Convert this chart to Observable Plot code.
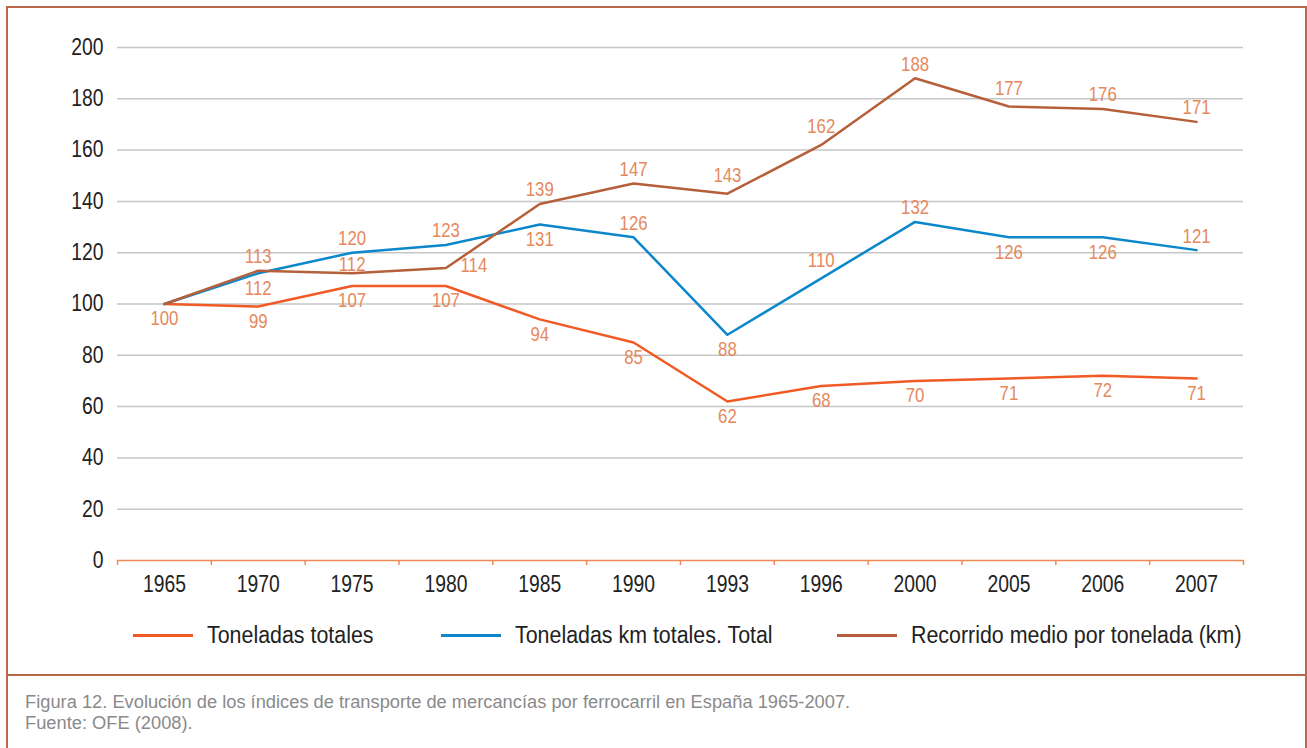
<!DOCTYPE html>
<html>
<head>
<meta charset="utf-8">
<script src="https://cdn.jsdelivr.net/npm/d3@7"></script>
<script src="https://cdn.jsdelivr.net/npm/@observablehq/plot@0.6"></script>
<style>
  html, body { margin: 0; padding: 0; background: #fff; }
  #wrap { position: relative; width: 1307px; height: 748px; overflow: hidden;
          font-family: "Liberation Sans", Arial, sans-serif; }
  .frame { position: absolute; left: 6px; top: 6px; width: 1301px; height: 800px;
           border: 2px solid #b7694a; box-sizing: border-box; }
  .divider { position: absolute; left: 6px; top: 674px; width: 1301px; height: 2px; background: #b7694a; }
  #chart { position: absolute; left: 0; top: 0; }
  .leg { position: absolute; top: 622px; height: 26px; display: flex; align-items: center;
         font-size: 23px; color: #222; white-space: nowrap; }
  .leg .sw { width: 60px; height: 3px; margin-right: 14px; flex: none; }
  .leg span { display: inline-block; transform: scaleX(0.93); transform-origin: left center; }
  .caption { position: absolute; left: 25px; top: 691px; font-family: "Liberation Sans", Arial, sans-serif;
             font-size: 18.3px; line-height: 21px; color: #8a8a8a; white-space: nowrap; }
</style>
</head>
<body>
<div id="wrap">
  <div class="frame"></div>
  <div class="divider"></div>
  <div id="chart"></div>
  <div id="legend"></div>
  <div class="caption" id="caption"></div>
</div>
<script>
// ---- data ----
const years = ["1965","1970","1975","1980","1985","1990","1993","1996","2000","2005","2006","2007"];
const toneladasTotales = [100, 99, 107, 107, 94, 85, 62, 68, 70, 71, 72, 71];
const toneladasKm = [100, 112, 120, 123, 131, 126, 88, 110, 132, 126, 126, 121];
const recorridoMedio = [100, 113, 112, 114, 139, 147, 143, 162, 188, 177, 176, 171];
const seriesNames = ["Toneladas totales", "Toneladas km totales. Total", "Recorrido medio por tonelada (km)"];
const yTicks = [0, 20, 40, 60, 80, 100, 120, 140, 160, 180, 200];
const captionLines = [
  "Figura 12. Evolución de los índices de transporte de mercancías por ferrocarril en España 1965-2007.",
  "Fuente: OFE (2008)."
];

// ---- styling / layout config ----
const seriesColors = ["#f15a24", "#0c87cb", "#b5603a"];
const labelColor = "#e5895d";
const labelPlacement = [
  ["below","below","below","below","below","below","below","below","below","below","below","below"],
  ["none","below","above","above","below","above","below","high","above","below","below","above"],
  ["none","above","near","right","above","above","high","high","above","high","above","above"]
];
const offsets = {
  above: {dx: 0, dy: -14},
  high:  {dx: 0, dy: -18},
  near:  {dx: 0, dy: -9},
  below: {dx: 0, dy: 15},
  right: {dx: 28, dy: -2}
};
const condenseFactor = 0.84;

const W = 1307, H = 600;
const mL = 117, mR = 64, mT = 47, mB = 40;
const step = (W - mL - mR) / years.length;

const valuesBySeries = [toneladasTotales, toneladasKm, recorridoMedio];
const rows = [];
seriesNames.forEach((s, si) => {
  years.forEach((y, i) => {
    rows.push({series: s, year: y, value: valuesBySeries[si][i], place: labelPlacement[si][i]});
  });
});

const textMarks = Object.entries(offsets).map(([key, o]) =>
  Plot.text(rows.filter(d => d.place === key), {
    x: "year", y: "value", text: d => String(d.value),
    dx: o.dx, dy: o.dy, fill: labelColor, fontSize: 20
  })
);

const chart = Plot.plot({
  width: W, height: H,
  marginLeft: mL, marginRight: mR, marginTop: mT, marginBottom: mB,
  style: {fontFamily: '"Liberation Sans", Arial, sans-serif',
          fontSize: "23px", color: "#222", background: "transparent", overflow: "visible"},
  x: {type: "point", domain: years, padding: 0.5, round: false, label: null, tickSize: 0, tickPadding: 15},
  y: {domain: [0, 200], ticks: yTicks, label: null, tickSize: 0, tickPadding: 14},
  color: {domain: seriesNames, range: seriesColors},
  marks: [
    Plot.ruleY(yTicks.filter(d => d > 0), {stroke: "#c6c6c6", strokeWidth: 1.5}),
    Plot.ruleY([0], {stroke: "#ee8a58", strokeWidth: 1.5}),
    Plot.ruleX(years, {x: d => d, y1: 0, y2: 0, insetBottom: -5, dx: -step / 2, stroke: "#ee8a58", strokeWidth: 1.5}),
    Plot.ruleX(years.slice(-1), {x: d => d, y1: 0, y2: 0, insetBottom: -5, dx: step / 2, stroke: "#ee8a58", strokeWidth: 1.5}),
    Plot.line(rows, {x: "year", y: "value", stroke: "series", strokeWidth: 2.5}),
    ...textMarks
  ]
});
document.getElementById("chart").appendChild(chart);

// condense the chart's text (the reference uses a condensed typeface), keeping each anchor in place
chart.querySelectorAll("text").forEach(t => {
  const len = t.getComputedTextLength();
  if (!(len > 0)) return;
  const anchor = getComputedStyle(t).textAnchor;
  const b0 = t.getBBox();
  t.setAttribute("textLength", (len * condenseFactor).toFixed(2));
  t.setAttribute("lengthAdjust", "spacingAndGlyphs");
  const b1 = t.getBBox();
  let shift = 0;
  if (anchor === "middle") shift = (b0.x + b0.width / 2) - (b1.x + b1.width / 2);
  else if (anchor === "end") shift = (b0.x + b0.width) - (b1.x + b1.width);
  else shift = b0.x - b1.x;
  if (Math.abs(shift) > 0.01) {
    const cur = parseFloat(t.getAttribute("dx")) || 0;
    t.setAttribute("dx", (cur + shift).toFixed(2));
  }
});

// legend
const legendX = [133, 441, 837];
const legend = document.getElementById("legend");
seriesNames.forEach((s, i) => {
  const item = document.createElement("div");
  item.className = "leg";
  item.style.left = legendX[i] + "px";
  const sw = document.createElement("div");
  sw.className = "sw";
  sw.style.background = seriesColors[i];
  const t = document.createElement("span");
  t.textContent = s;
  item.appendChild(sw); item.appendChild(t);
  legend.appendChild(item);
});

// caption
document.getElementById("caption").innerHTML = captionLines.map(l => `<div>${l}</div>`).join("");
</script>
</body>
</html>
